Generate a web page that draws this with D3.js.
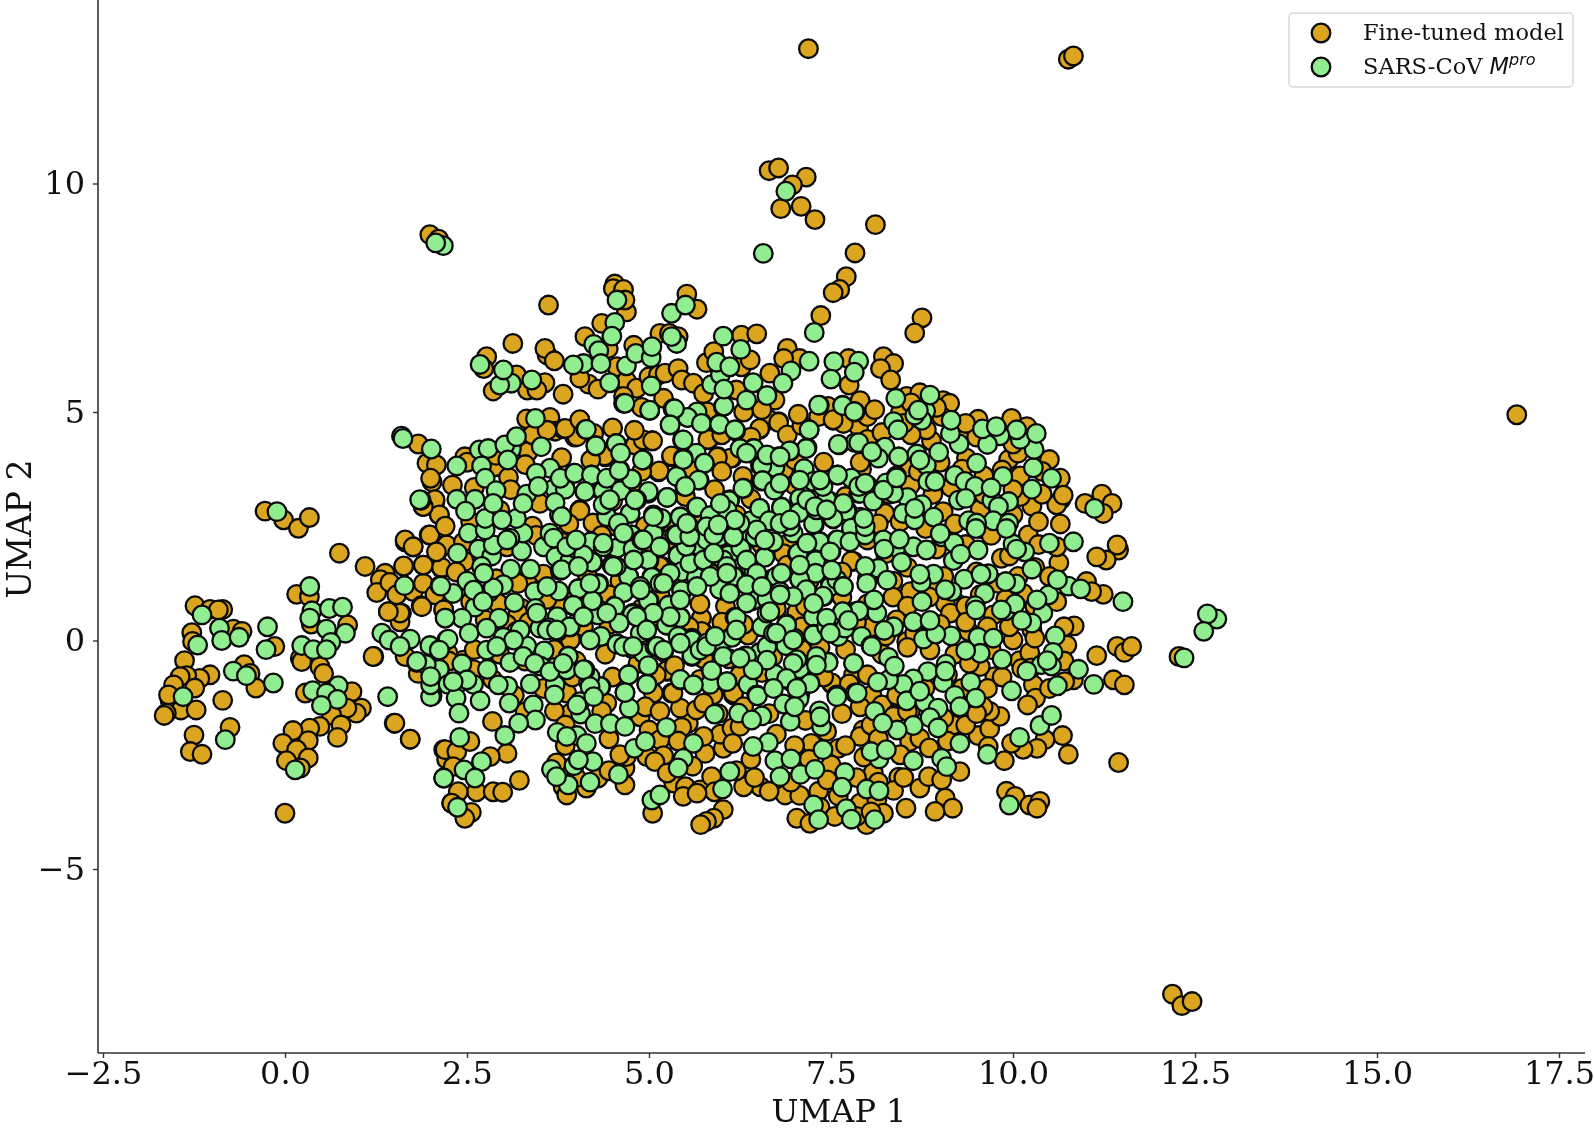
<!DOCTYPE html>
<html><head><meta charset="utf-8">
<script src="https://cdnjs.cloudflare.com/ajax/libs/d3/7.8.5/d3.min.js"></script>
<style>html,body{margin:0;background:#fff}svg{display:block;filter:blur(0.35px)}text{font-family:"DejaVu Serif",serif;fill:#111}</style>
</head><body><svg id="c" width="1594" height="1130"></svg>
<script>
const xTicks=[-2.5,0,2.5,5,7.5,10,12.5,15,17.5];
const yTicks=[-5,0,5,10];
const seriesNames=["Fine-tuned model","SARS-CoV "];
const fineTuned=[[7.19,12.95],[10.76,12.72],[10.83,12.79],[16.92,4.94],[12.19,-7.74],[12.32,-7.99],[12.46,-7.9],[6.65,10.28],[6.78,10.34],[7.16,10.14],[6.97,9.97],[6.81,9.45],[7.09,9.5],[7.28,9.21],[8.11,9.1],[1.99,8.88],[2.11,8.78],[12.28,-.35],
[-.274,2.83],[-.02,2.64],[.184,2.455],[.335,2.69],[.747,1.91],[1.1,1.62],[1.375,1.47],[1.31,1.33],[1.26,1.05],[1.44,1.27],[1.535,1],[1.65,2.16],[1.76,2.05],[1.63,1.62],[1.9,1.65],[1.98,2.31],[2.06,3.04],[2.12,2.75],[1.9,2.93],[2.02,3.47],[2.09,1.94],[2.15,1.58],[2.2,2.09],[1.76,1.07],[1.9,1.25],[1.87,.76],[1.6,.6],[1.42,.63],[1.58,.41],[2.06,1],[2.18,.67],
[-1.236,.76],[-1.03,.68],[-.856,.68],[-.915,.67],[-1.28,.17],[-1.27,-.02],[-.71,.25],[-.59,.2],[-1.38,-.44],[-1.03,-.75],[-1.17,-.83],[-1.35,-.77],[-1.44,-.79],[-1.53,-.97],[-1.24,-1.04],[-1.58,-1.3],[-1.6,-1.19],[-1.43,-1.52],[-1.22,-1.52],[-1.63,-1.59],[-1.66,-1.64],[-.856,-1.31],[-.755,-1.9],[-1.25,-2.07],[-1.3,-2.43],[-1.14,-2.49],[0,-3.78],
[.16,1.01],[.335,.96],[.86,.34],[.36,.36],[-.14,-.13],[-.56,-.53],[-.48,-.72],[-.4,-1.04],[.21,-.39],[.23,-.46],[.48,-.57],[.53,-.72],[.28,-1.15],[.92,-1.12],[1.05,-1.48],[.98,-1.59],[.85,-1.48],[.64,-1.63],[.77,-1.85],[.72,-2.12],[.48,-1.88],[.34,-1.92],[.11,-1.97],[.32,-2.19],[-.03,-2.25],[.16,-2.39],[.32,-2.57],[.02,-2.63],[.21,-2.79],[1.22,-.35],[1.5,-1.81],[1.72,-2.16],[2.18,-2.39],[2.22,-2.6],[2.29,-3.56],
[3.62,7.34],[3.13,6.5],[3.6,6.25],[3.57,6.39],[3.7,6.12],[3.82,5.39],[2.77,6.21],[2.73,5.95],[2.86,5.46],[3.18,5.81],[3.33,5.48],[3.57,5.64],[3.46,5.48],[4.53,7.8],[4.51,7.7],[4.65,7.68],[4.69,7.19],[4.67,7.45],[4.35,6.94],[4.12,6.65],[5.52,7.58],[5.66,7.25],[5.15,6.72],[5.28,6.72],[5.4,6.65],[4.79,6.46],[4.44,6.39],[4.56,5.99],[4.17,5.61],[4.05,5.74],[4.69,5.68],[4.83,5.52],[5,5.77],[5.13,5.81],[5.22,5.85],[4.65,5.34],[5.4,5.95],[5.45,5.7],[5.61,5.63],[5.79,6.08],[5.89,6.32],[6.27,6.68],[6.27,5.99],[6.2,5.48],[3.64,4.88],[3.32,4.85],[3.71,4.58],[3.82,4.63],[3.98,4.45],[4.05,4.82],[4.24,4.53],[5.04,4.37],[4.9,4.35],[4.81,4.28],[4.4,4.02],[1.83,4.3],[1.95,3.88],[2.08,3.84],[2,3.55],[2.47,4.02],[2.88,3.8],[3.07,3.57],[3.34,4.13],[5.13,3.69],[5.31,4.02],[5.82,4.39],[5.95,4.02],[6.14,3.99],[2.06,3.08],[2.12,2.75],[1.9,2.93],[4.05,2.86],[4.24,2.56],
[7.83,8.48],[7.71,7.96],[7.62,7.68],[7.53,7.61],[7.36,7.11],[8.75,7.06],[8.65,6.73],[6.48,6.71],[6.9,6.39],[7.07,6.17],[6.85,6.17],[6.66,5.85],[6.73,5.26],[6.39,6.14],[8.22,6.21],[8.36,6.06],[8.18,5.95],[8.32,5.7],[7.75,5.59],[7.74,6.17],[7.46,5.12],[7.33,4.9],[7.53,4.82],[7.88,4.68],[8,4.9],[7.67,4.75],[6.64,4.82],[6.78,4.79],[6.52,4.62],[8.54,5.34],[8.72,5.42],[9.04,5.25],[9.13,5.19],[8.45,4.97],[9.02,4.9],[8.88,4.37],[8.81,4.61],[9.52,4.84],[9.98,4.86],[10.19,4.68],[9.94,3.96],[10.07,4.1],[10.5,3.96],[9.36,3.99],[9.85,3.73],[10.65,3.55],[10.26,2.94],[10.1,3.15],[10.66,3.09],[10.6,2.97],[10.69,3.18],[10.99,3],[11.22,3.2],[11.36,3],[11.24,2.78],[7.92,3.75],[8.54,3.75],[9.66,3.4],[9.55,2.87],[9.04,2.82],[8.24,2.78],[8.59,3.4],[6.87,3.72],
[7.81,1.73],[6.91,2.09],[7.03,.6],[7.51,-.95],[7.81,-.75],[8.06,-1.19],[8.2,-1.41],[8.38,-1.63],[8.59,-1.55],[9.18,-1.85],[7.94,-1.96],[7.9,-2.1],[8.58,-2.21],[8.72,-2.14],[7.6,-2.36],[7.5,-2.72],[7.23,-2.25],[8.08,-2.89],[8.43,-2.99],[8.36,-3.28],[8.72,-3.23],[8.84,-2.98],[9.02,-3.05],[9.27,-2.87],[9.07,-3.45],[9.17,-3.67],[8.93,-3.74],[8.53,-3.67],[7.03,-3.89],[7.21,-4],[6.87,-3.38],[7.07,-3.39],[6.53,-3.2],[7.33,-3.3],[7.9,-3.56],[8.13,-3.49],[8.22,-3.78],[7.99,-4.03],[9.88,-2.63],[9.52,-2.08],[9.68,-1.93],[9.66,-2.32],[9.82,-1.66],[9.68,-1.55],[9.59,-1.45],[9.75,-.79],[10.09,-.44],[10.23,-.26],[10,.01],[10.12,-.61],[10.28,-.97],[10.31,-1.26],[10.2,-1.41],[9.39,.2],[9.55,-.57],[10.84,.32],[11.15,-.33],[11.43,-.13],[11.53,-.26],[11.63,-.13],[11.38,-.86],[11.53,-.97],[10.83,-.86],[10.71,-.9],[10.74,-.1],[11.45,-2.67],[10.76,-2.49],[10.68,-2.08],[10.44,-2.17],[10.33,-2.36],[10.14,-2.38],[9.98,-2.25],[9.91,-3.3],[10.03,-3.41],[10.23,-3.6],[10.37,-3.52],[10.33,-3.67],[11.45,1.98],[11.43,2.09],[11.28,1.76],[11.15,1.83],[10.63,1.7],[11.24,1.01],[11.01,1.29],[11.08,1.07],[9.23,.81],[9.07,.81],[9.14,.6],[9.73,.56],[10.26,.23],[10.14,1.03],[9.84,1.8],[10.21,2.31],[10.07,1.4],[8.59,1.07],[8.54,-.02],[8.88,.38],[8.86,-.21],[8.79,-1.04],[8.36,-1.66],[8.06,.3],[7.44,-1.99],
[1.65,2.2],[1.76,2.05],[1.99,2.31],[1.63,1.63],[1.9,1.65],[2.15,1.6],[2.22,2.09],[2.08,1.94],[2.47,1.73],[1.88,.74],[1.58,.6],[1.42,.63],[2.18,.67],[1.21,-.35],[1.51,-1.81],[1.72,-2.16],[2.2,-2.39],[2.36,-2.43],[2.54,-2.21],[2.85,-1.77],[3.05,-2.47],[2.82,-2.54],[2.31,-2.76],[2.63,-3.31],[2.38,-3.31],[2.86,-3.31],[2.99,-3.32],[3.22,-3.06],[2.56,-3.76],[2.47,-3.89],[2.29,-3.56],[3.73,-2.68],[3.82,-3.2],[3.87,-3.38],[4.14,-3.23],[4.3,-3.01],[4.67,-3.16],[4.67,-2.79],[5.05,-3.78],[3.92,-1.59],[4.42,-1.37],[4.88,-1.67],[5,-1.96],[5.15,-2.17],[5.2,-2.52],[4.97,-2.54],[5.08,-2.65],[4.69,-2.54],[5.34,-3.12],[5.5,-3.2],[5.7,-3.27],[5.47,-3.41],[5.86,-2.98],[5.9,-3.31],[6.02,-3.7],[5.89,-3.89],[5.79,-3.96],[5.71,-4.03],[5.77,-2.47],[6.02,-2.36],[5.98,-2.05],[5.54,-1.81],[5.43,-1.48],[5.65,-1.52],[5.31,-1.15],[5.88,-1.19],[6.16,-1.19],[5.75,-1.37],[6.14,-1.92],[6.25,-1.88],[5.25,-.68],[5.06,-1.15],[5.72,.49],[5.72,.23],[6.34,.16],[5.18,1.62],[2.93,.81],[3.76,.74],[3.25,.7],[2.45,-.43],[2.59,-.64],[1.83,-.72],[1.65,-.35],[2.24,-.28],[3.87,-1.15],[3.92,.01],[3.32,1.32],[3.3,-1.56],[6.3,-3.2],[5.66,-3.34],
[4.05,2.84],[4.23,2.57],[5.14,3.71],[4.81,4.28],[4.92,4.39],[5.05,4.37],[4.39,4.04],[4.01,4.46],[3.85,4.64],[4.05,4.83],[5.31,4.04],[5.81,4.4],[6.12,3.99],[5.94,4.01],[6.64,4.84],[6.52,4.64],[6.78,4.77],[7.53,4.83],[7.78,1.74],[6.9,2.11],[7.03,.62],[5.72,.49],[5.72,.2],[6.36,.12],[5.24,-.66],[6.16,-1.15],[7.51,-.93],[5.33,-1.15],[5.15,1.62],[3.85,2.31],[6.85,3.73],[6.29,3.59],
[3.4,4.5],[3.6,4.6],[4.5,4.65],[4.8,4.6],[6,4.5],[6.4,4.45],[6.9,4.5],[7.1,4.7],[8,4.4],[8.2,4.55],[8.6,4.5],[9.3,4.6],[9.5,4.45],[10,4.3],
[2.5,3.9],[2.9,4.05],[3.3,3.85],[3.8,4],[4.2,3.95],[4.9,3.7],[5.6,3.75],[6,3.7],[6.5,4],[7,3.95],[7.4,3.9],[7.9,3.9],[8.4,3.6],[8.7,3.7],[9,3.9],[9.3,3.75],[9.6,3.6],[10.1,3.6],[10.4,3.7],
[2.3,3.4],[2.6,3.35],[3.1,3.3],[3.5,3],[4.5,3.05],[4.8,3.3],[5.5,3.15],[5.9,3.3],[6.4,3.1],[7,3.4],[7.7,3.15],[8,3.4],[8.3,3.2],[8.9,3.2],[9.15,3.35],[9.6,3.2],[10,3.3],[10.4,3.2],
[2.2,2.5],[2.55,2.6],[2.95,2.85],[3.4,2.5],[3.9,2.55],[4.55,2.5],[4.95,2.5],[5.3,2.55],[5.7,2.65],[6.2,2.75],[6.85,2.65],[7.35,2.8],[7.9,2.7],[8.15,2.55],[8.45,2.6],[8.8,2.45],[9.2,2.55],[9.55,2.45],[10,2.75],[10.35,2.6],[10.65,2.55],
[2.45,2.15],[2.7,1.85],[3.05,2.05],[3.45,2.3],[3.8,2.15],[4.35,2.3],[4.95,2],[5.25,2.2],[5.55,1.95],[5.95,2.1],[6.55,2.1],[6.85,1.9],[7.5,1.95],[8,2.2],[8.25,1.9],[8.95,2],[9.35,2.1],[9.7,2.3],[9.95,1.85],[10.35,2.1],[10.6,2.05],
[2.35,1.5],[2.9,1.35],[3.2,1.25],[3.55,1.45],[4.15,1.45],[4.6,1.3],[5.25,1.4],[5.9,1.5],[6.4,1.25],[6.9,1.65],[7.2,1.3],[7.65,1.5],[8,1.35],[8.35,1.3],[8.55,1.6],[8.85,1.2],[9.05,1.4],[9.5,1.5],[9.8,1.25],[10.3,1.6],[10.5,1.4],
[2.55,.85],[2.8,1.05],[3.2,.6],[3.6,.9],[4,.95],[4.45,1],[4.9,.7],[5.15,1],[5.7,.8],[6.05,.75],[6.75,.7],[7.15,.75],[7.65,.95],[8,.8],[8.35,.95],[8.55,.75],[8.85,.95],[9.35,.75],[9.55,1],[9.9,.9],[10.3,.75],[10.6,.85],
[2.75,.45],[3.05,.35],[3.35,.4],[3.75,.2],[4.1,.3],[4.45,.35],[4.95,.25],[5.15,.5],[5.55,.3],[6,.4],[6.3,.35],[6.85,.15],[7.1,.3],[7.45,.2],[7.85,.4],[8.25,.1],[8.4,.45],[8.65,.15],[9,.35],[9.35,.4],[9.65,.3],[9.95,.3],[10.3,.05],[10.7,.3],
[2.25,-.45],[2.6,-.2],[2.95,-.3],[3.3,-.45],[3.7,-.2],[4,-.45],[4.4,-.3],[4.85,-.5],[5.2,-.25],[5.75,-.4],[6.1,-.4],[6.35,-.55],[6.7,-.35],[7.1,-.2],[7.35,-.15],[7.7,-.2],[8.2,-.3],[8.55,-.15],[9.2,-.3],[9.4,-.5],[9.7,-.2],[10.25,-.6],[10.7,-.45],
[2.85,-.85],[3.15,-1.2],[3.55,-1.05],[3.95,-.8],[4.5,-.8],[5.1,-.75],[5.35,-.55],[5.7,-.85],[6.25,-.75],[6.55,-.7],[6.95,-.9],[7.4,-.8],[7.75,-.95],[8,-.75],[8.4,-1.2],[8.7,-1.1],[9.1,-.75],[9.3,-1.05],[9.65,-1.05],[9.85,-.8],[10.5,-1.05],
[3.7,-1.55],[3.85,-1.85],[4.35,-1.55],[4.95,-1.45],[5.15,-1.55],[5.45,-1.9],[5.95,-1.6],[6.3,-1.45],[6.65,-1.6],[6.95,-1.45],[7.15,-1.75],[7.65,-1.6],[7.9,-1.45],[8.05,-1.85],[8.55,-1.55],[9.05,-1.7],[9.35,-1.85],[9.5,-1.6],
[3.85,-2.3],[4.45,-2.15],[4.6,-2.5],[5.4,-2.2],[5.75,-2.1],[6.15,-2.25],[6.4,-2.6],[6.75,-2.05],[7,-2.3],[7.2,-2.6],[7.7,-2.3],[7.95,-2.55],[8.15,-2.15],[8.45,-2.5],[8.85,-2.35],[9.1,-2.2],
[4,-3],[4.45,-2.85],[5.25,-2.9],[5.6,-2.75],[6.2,-2.85],[6.45,-3],[6.65,-3.3],[6.95,-3.1],[7.45,-3.05],[7.6,-3.4],[7.85,-3],[8.15,-3.1],[8.5,-3],[7.35,-3.65],[7.55,-3.85],[7.85,-3.85],[8.05,-3.75],
[4.3,5.5],[4.9,5.1],[5.2,5.3],[5.75,5.4],[5.8,5],[6.3,5],[6.55,5.05],[7.05,4.95],[7.9,5.25],[8.1,5.05],[8.6,5.2],[8.95,5.1],[8.5,4.75],[9.35,4.75]];
const sarsCov=[[6.88,9.83],[6.57,8.47],[12.8,.47],[12.67,.58],[12.62,.2],[12.35,-.38],
[-.11,2.82],[.34,1.18],[.37,.65],[.34,.49],[.61,.7],[.79,.73],[-.24,.3],[-1.14,.56],[-.9,.27],[-.87,0],[-.63,.07],[-1.2,-.1],[-.26,-.2],[.23,-.11],[.39,-.2],[.57,.25],[.83,.16],[.63,-.04],[.57,-.2],[-.71,-.67],[-.53,-.77],[-.16,-.93],[-1.4,-1.23],[.38,-1.1],[.73,-.99],[.57,-1.15],[.72,-1.29],[.5,-1.42],[-.82,-2.17],[.14,-2.83],[1.41,-1.23],[1.87,3.07],[1.64,1.2],[2.13,1.2],[1.33,.16],[1.43,.01],[1.72,.03],[1.58,-.13],[2.2,.49],[2.22,.01],[1.99,-.11],[2.12,-.2],[1.81,-.48],[1.95,-.53],[2.12,-.63],[2.02,-.99],[2.02,-1.21],[2.25,-.93],[2.18,-3.01],
[2.37,1.91],[2.66,2],[2.84,1.85],[2.86,2.09],[2.7,1.62],[3.1,1.56],[3,1.22],[3.25,1.96],[3.27,2.35],[3.09,2.24],[2.52,2.35],[2.75,2.42],[3.55,2.05],[3.64,2.35],[3.72,1.83],[3.37,1.56],[2.5,1.3],[2.31,1.03],[2.14,1.19],[2.61,.73],[2.43,.49],[2.2,.49],[2.53,.16],[2.94,.49],[3.15,.83],[3.43,1.07],[3.44,.7],[3.78,1.53],[3.92,1.71],[4.23,1.71],[4.2,2.16],[4.03,1.14],[4.31,1.25],[3.76,1.08],[3.96,.76],[4.23,.86],[4.49,1.65],[4.56,2.02],[4.78,2.02],[4.76,2.31],[5.06,2.33],[4.72,1.4],[5,1.75],[5.04,1.4],[4.65,1.05],[5,.87],[4.53,.76],[4.78,.6],[4.12,.6],[4.59,.38],[4.3,.56],[3.92,.3],[3.74,.52],[3.62,.28],[3.5,.27],[3.18,.2],[2.77,.27],[3,.07],[3.32,-.12],[2.77,-.21],[3.56,-.23],[3.09,-.48],[2.78,-.63],[3.71,-.59],[3.89,-.34],[3.51,-.56],[2.43,-.51],[2.12,-.63],[1.94,-.53],[2.24,.03],[2.12,-.21],[1.81,-.46],[2,-1.23],[2,-.97],[2.24,-.96],[2.38,-.94],[2.59,-.96],[2.35,-1.26],[2.68,-1.32],[2.39,-1.59],[3.06,-1],[3.08,-1.37],[3.37,-.95],[3.41,-1.41],[3.44,-1.74],[3.21,-1.81],[3.02,-2.08],[2.4,-2.12],[2.7,-2.65],[2.46,-2.83],[2.61,-3.01],[2.18,-3.01],[2.37,-3.65],[3.66,-2.82],[3.97,-2.74],[4.23,-2.65],[4.19,-3.1],[3.89,-3.16],[3.74,-2.01],[4.01,-2.08],[4.14,-2.25],[4.06,-1.61],[4.26,-1.82],[4.47,-1.82],[4.67,-1.88],[3.71,-.97],[3.7,-1.19],[4.05,-1.34],[4.17,-.9],[4.34,-1.01],[4.67,-1.14],[4.73,-1.48],[4.58,-2.93],[5.04,-3.49],[5.15,-3.38],[4.8,-2.36],[4.95,-2.21],[5.24,-1.9],[5.61,-2.25],[5.47,-2.58],[5.4,-2.79],[5.9,-1.61],[6.23,-1.59],[6.11,-2.87],[6.01,-3.25],[5.43,-.86],[5.61,-.97],[5.86,-.68],[6.07,-.9],[5.84,-.96],[5.98,-.13],[5.59,-.35],[5.42,.05],[4.94,-.28],[4.99,-.56],[4.72,-.75],[4.97,-.95],[4.56,-.07],[4.34,.09],[5.25,.33],[5.42,.09],[5.43,.51],[5.28,.78],[5.45,1.07],[5.7,2.05],[5.4,1.85],[5.66,1.4],[5.47,1.51],[6,1.1],[6.18,1.4],[6.09,1.87],[6.27,2.02],[6.18,.51],[6.14,.09],[6.32,-.34],[5.59,.05],
[4.13,4.62],[4.27,4.26],[4.55,4.31],[4.65,5.19],[5.01,5.03],[5.33,5.07],[5.53,4.88],[5.72,4.77],[5.29,4.72],[5.46,4.39],[5.65,4.1],[5.47,3.99],[5.76,3.88],[4.92,3.95],[4.6,3.73],[4.76,3.53],[3.97,3.66],[4.21,3.62],[4.35,3.28],[4.12,3.26],[4.62,3.3],[3.85,3.33],[5.38,3.59],[5.69,3.51],[5.49,3.37],[4.99,3.22],[5.25,3.13],[4.74,2.78],[4.42,2.71],[5.17,2.66],[5.43,2.71],[5.65,2.91],[5.84,2.73],[5.55,2.49],[5.35,2.31],[5.06,2.35],[4.76,2.31],[4.2,2.16],[4.56,2.02],[4.78,2],[5.7,2.06],[5.4,1.86],[4.99,1.76],[5.86,1.84],[3.91,1.73],[4.22,1.71],[4.49,1.65],[4.72,1.4],[4.3,1.23],[4.03,1.13],[5.04,1.38],[5.45,1.51],[5.65,1.38],[6.16,1.4],[5.97,1.12],[5.45,1.09],[4.99,.87],[4.65,1.05],[4.22,.87],[3.96,.77],[4.53,.74],[5.27,.77],[4.77,.57],[4.59,.38],[3.91,.3],[5.43,.5],[5.24,.34],[4.34,.09],[4.56,-.08],[4.76,-.17],[4.92,-.28],[5.4,.09],[5.59,.01],[5.9,.09],[5.97,-.15],[6.14,.07],[5.59,-.33],[5.08,-.13],[3.89,-.35],[4.99,-.55],[4.72,-.75],[4.33,-1.01],[4.19,-.79],[4.67,-1.14],[4.97,-.96],[5.43,-.85],[5.61,-.97],[5.86,-.66],[6.07,-.9],
[6.02,5.12],[6.34,5.26],[5.96,4.73],[6.19,4.59],[6.43,4.2],[7.2,4.61],[7.17,4.22],[7.61,4.28],[7.34,5.15],[7.66,5.15],[7.83,5],[7.83,4.33],[6.94,4.15],[6.53,3.83],[6.73,3.81],[7.13,3.75],[7.59,3.62],[6.55,3.49],[7.26,3.49],[6.73,3.31],[6.3,3.33],[7.78,3.55],[7.88,3.22],[7.07,3.11],[6.11,3.08],[7.46,3.04],[6.52,2.89],[6.82,2.92],[7.72,2.84],[7.06,2.8],[7.53,2.66],[6.65,2.62],[6.4,2.62],[6.09,2.64],[7.27,2.53],[7.78,2.4],[7.58,2.2],[7.35,2.16],[6.18,2.35],[6.41,2.26],[6.26,2.02],[6.59,1.84],[7.04,1.9],[7.28,1.76],[7.3,1.49],[6.69,1.34],[7.07,1.34],[7.49,1.25],[7.4,.96],[6.41,.87],[6.62,.93],[7.66,.63],[7.26,.52],[7.83,.63],[6.89,.36],[6.56,.3],[6.2,.5],[7.26,.14],[7.6,.1],[7,.05],[6.89,-.11],[6.52,-.26],[7.46,-.47],[7.07,-.61],[7.81,-.5],[6.73,-.75],[7.21,-.93],[6.36,-.96],[7.58,-1.19],[7.83,-1.15],[7.07,-1.19],[6.48,-1.19],
[2.175,8.64],[2.07,8.7],[1.6,4.47],[1.62,4.42],[2.01,4.19],[2.36,3.82],[2.67,4.17],[2.79,4.2],[2.7,3.82],[2.75,3.55],[2.9,3.28],[1.85,3.08],[2.36,3.09],[2.61,3.09],[2.48,2.83],[2.75,2.67],[3.11,4.19],[3.02,4.28],[3.18,4.46],[3.06,3.95],[3.52,4.24],[3.64,3.77],[3.45,3.66],[3.32,3.2],[3.7,3.33],[3.85,3.31],[3.78,3.55],[3.98,3.66],[4.21,3.62],[4.12,3.26],[4.37,3.28],[4.42,3.55],[4.61,3.28],[4.76,3.53],[4.59,3.72],[4.91,3.95],[4.99,3.26],[5.25,3.13],[5.38,3.59],[5.47,3.96],[5.76,3.88],[5.68,3.51],[5.5,3.37],[5.66,2.92],[5.43,2.7],[5.84,2.73],[6.1,3.06],[6.29,3.33],[5.17,2.67],[4.74,2.78],[4.42,2.71],[3.77,2.75],[3.18,2.67],[2.98,2.64],[3.71,3.02],
[3.44,4.86],[4.14,4.62],[4.27,4.26],[4.55,4.31],[4.61,4.1],[5.47,4.39],[5.66,5],[5.53,4.88],[5.35,5.07],[5.29,4.72],[5.01,5.04],[5.72,4.75],[5.97,4.73],[6.03,5.13],[6.18,4.61],[6.25,4.2],[5.86,5.6],[5.98,5.82],[5.93,6.09],[6.11,5.99],[6.26,6.37],[6.02,6.66],[6.03,5.5],[5.03,5.57],[4.67,5.19],[4.46,5.64],[4.69,6.01],[4.82,6.28],[5.03,6.19],[5.04,6.43],[5.38,6.5],[5.31,6.65],[5.31,7.16],[5.5,7.34],[4.53,6.96],[4.49,6.66],[4.24,6.48],[4.31,6.34],[4.56,7.45],[4.1,6.06],[3.96,6.03],[4.34,6.06],[3.39,5.7],[3.11,5.63],[2.95,5.59],[3,5.92],[2.68,6.04],
[7.27,6.74],[7.2,6.11],[7.54,6.1],[7.88,6.11],[7.82,5.87],[7.5,5.72],[6.95,5.9],[6.84,5.63],[6.43,5.64],[6.62,5.36],[7.33,5.15],[7.66,5.14],[7.82,5.01],[7.2,4.61],[7.16,4.2],[7.6,4.29],[7.88,4.33],[6.93,4.15],[6.44,4.2],[6.78,4.02],[6.73,3.79],[6.55,3.82],[7.13,3.76],[7.59,3.62],[6.56,3.5],[7.26,3.48],[6.72,3.29],[7.9,3.22],[8.09,3.06],[7.48,3.05],[7.07,3.11],[6.82,2.91],[6.52,2.89],[7.06,2.8],[7.71,2.83],[7.53,2.67],[6.65,2.62],[7.26,2.55],[7.78,2.46],
[8.24,4.23],[8.43,4.02],[8.15,3.99],[8.68,4.08],[8.81,3.84],[8.98,4.12],[9.26,4.3],[9.14,4.53],[9.15,4.82],[8.8,5.02],[8.75,4.82],[8.65,4.93],[8.86,5.37],[8.39,5.3],[8.36,4.79],[8.42,4.61],[9.5,3.88],[9.2,3.61],[9.34,3.48],[9.48,3.37],[9.86,3.59],[10.28,3.78],[10.29,4.18],[10.1,4.4],[10.32,4.53],[10.05,4.61],[9.82,4.48],[9.65,4.29],[9.58,4.63],[9.77,4.68],[10.53,3.55],[10.26,3.31],[9.94,3.04],[9.71,3.07],[9.8,2.93],[9.25,3.07],[8.83,3.48],[8.55,3.13],[8.26,3.45],[8.08,3.05],[8.75,2.97],[8.65,2.78],[8.91,2.7],[9.73,2.62],[9.94,2.57],[9.39,2.62],[11.12,2.89],
[6.46,2.27],[6.59,1.82],[7.05,1.91],[7.34,2.16],[7.59,2.2],[7.29,1.75],[7.29,1.47],[6.68,1.33],[6.44,1.51],[7.07,1.34],[7.16,1.1],[7.49,1.18],[7.39,.97],[6.44,.89],[6.62,.91],[8.15,1.58],[8.4,2.04],[8.47,1.71],[8.63,2.05],[8.81,1.98],[9.18,1.75],[8.91,1.45],[8.74,1.27],[9.33,1.34],[9.66,1.46],[9.16,1.07],[9.61,1.03],[8.75,.85],[9.02,2.27],[9.19,2.13],[9.52,1.98],[10.16,1.94],[10.5,2.13],[10.83,2.16],[10,2.11],[10.04,1.24],[9.9,1.29],[10.76,1.19],[10.93,1.13],[11.51,.85],[10.49,1],[10.41,.6],[10.26,.38],[9.9,.65],[9.48,.76],[10.03,.8],[8.36,.3],[8.63,.41],[8.77,.03],[9.15,.1],[8.94,.14],[9.52,.07],[9.73,.05],[9.55,-.28],[9.85,-.41],[10.58,.1],[10.55,-.26],[10.39,-.53],[10.53,-.56],[10.9,-.63],[11.11,-.96],[10.61,-.99],[8.29,-.37],[9.08,-.52],[8.83,-.68],[8.63,-.84],[8.49,-.96],[8.29,-.86],[8.14,-.91],[9.04,-.92],[9.42,-.91],[9.2,-1.2],[9.49,-1.26],[8.54,-1.32],[8.79,-1.35],[9.27,-1.45],[8.97,-1.48],[8.86,-1.69],[8.1,-1.55],[8.63,-1.86],[8.41,-1.96],[8.21,-1.81],[8.97,-1.91],[9.98,-1.1],[10.37,-1.86],[10.53,-1.64],[10.09,-2.12],[9.27,-2.25],[9.65,-2.49],[8.16,-2.59],[8.05,-2.43],[8.26,-2.39],[8.63,-2.63],[9.02,-2.58],[9.09,-2.76],[9.95,-3.6],[7.86,-1.15],[7.58,-1.23],[7.06,-1.28],[7.34,-1.54],[6.94,-1.77],[7.37,-1.88],[6.49,-1.21],[6.85,-1.39],[6.55,-1.65],[6.41,-1.74],[6.64,-2.23],[6.43,-2.32],[6.73,-2.63],[6.95,-2.59],[7.08,-2.93],[6.8,-2.98],[7.28,-2.82],[7.69,-2.89],[7.39,-2.39],[7.65,-3.21],[7.99,-3.25],[8.16,-3.29],[7.26,-3.6],[7.71,-3.68],[7.78,-3.91],[7.33,-3.92],[8.1,-3.92],[7.92,.09],[8.13,.6],[7.88,.65],[7.66,.63],[7.6,.09],[7.26,.12],[6.89,.34],[6.55,.3],[6.88,-.11],[6.52,-.27],[8.05,-.11],[7.46,-.48],[7.81,-.5],[7.07,-.62],[6.73,-.74],[7.21,-.94],
[3.8,2.71],[4.37,2.97],[4.58,2.57],[4.83,3.08],[5.06,2.75],[4.9,2.2],[5.15,2.05],[4.65,2.35],[4.37,2.05],[3.98,2.02],[4.1,1.87],[3.8,1.55],[4.03,1.62],[4.55,1.62],[4.88,1.18],[5.15,1.25],[5.29,1.47],[5.56,1.69],[5.75,1.76],[6.02,1.76],[6.34,1.76],[5.84,1.4],[6.07,1.62],[6.48,1.47],[6.34,1.22],[6.11,1.03],[6.75,1.4],[6.8,1.07],[7.16,1.11],[7.58,1.33],[7.67,1.18],[6.98,.96],[6.62,.6],[6.34,.82],[4.42,.6],[4.1,.52],[7.03,-.42],[7.3,-.35],[6.62,-.13],[6.34,-.35],[6.71,.16],[5.79,-.06],[5.29,.52],[5.06,.6],[4.19,.01],[4.65,-.13],[3.87,-.64],[4.12,-.64],[4.88,.16],[7.69,.27],[7.44,.3],[6.98,2.35],[6.71,2.16],[5.97,2.27],[5.79,2.2],[5.51,2.06],[6.94,2.49],[6.8,2.56],[6.48,2.42],[6.25,2.56],[6.07,2.86],[5.93,2.49],[5.79,2.49],[7.44,3.08],[7.17,3.08],[7.3,2.86],[7.67,3],[7.39,3.37],[7.07,3.51],[6.8,3.44],[6.62,4.06],[6.8,4.02],[6.34,4.1],
[6.59,2.2],[7.17,2.13],[7.49,1.94],[7.07,1.65],[6.82,1.47],[6.55,1.18],[6.8,1],[7.51,1.54],[7.76,2.16],[7.97,2.31],[8.22,2.2],[7.97,1.62],[8.27,1.32],[7.99,1.25],[7.67,1.18],[7.26,.81],[6.66,.63],[7.44,.49],[8.06,-.13],[7.49,.16],[6.75,.16],[6.98,.01],[7.3,-.54],[6.98,-.5],[6.62,-.43],[6.43,-.64],[6.89,-.83],[6.71,-1.05],[7.03,-1.05],[7.35,-1.67],[7,-1.45],
[3.05,2.2],[3.69,2.24],[3.87,2.05],[4,2.2],[4.37,2.13],[4.92,2.2],[5.38,2.31],[5.56,2.27],[5.89,2.31],[6.16,2.27],[5.89,1.91],[6.07,1.47],[5.66,1.18],[5.43,.89],[5.2,1.25],[4.88,1.11],[4.51,1.62],[4.79,1.76],[4.19,1.25],[3.6,1.18],[2.86,1.15],[2.73,1.47],[2.59,1.1],[2.72,.85],[3.46,.6],[3.6,.23],[3.73,.23],[3.23,.23],[3.14,.01],[2.91,-.13],[3.27,-.35],[3.43,-.5],[3.64,-.68],[3.82,-.5],[4.1,-.64],[4.19,-1.01],[4.24,-1.23],[4.01,-1.41],[2.93,-.97],[2.5,-.86],[2.31,-.9],[2,-.79],[4.78,-.13],[4.83,.52],[4.97,.23],[5.11,-.13],[5.2,-.21],[5.43,-.06],[5.7,-.21],[6.02,-.35],[6.25,-.39],[6.2,.23],[5.79,-.13],[5.91,.09],[3.87,-2.1],[4.03,-2.61],[3.73,-2.98],
[2.86,3],[3.27,3],[3.48,3.37],[4.46,3.08],[4.81,3.08],[5.06,2.71],[5.52,2.56],[5.98,3],[6.18,2.64],[5.95,2.53],
[7.35,3.51],[7.88,3.37],[7.97,3.44],[7.28,2.93],[7.44,2.86],[6.94,2.64],[7.97,2.49],[8.36,3.22],[8.22,3.29],[8.49,2.78],[8.65,2.64],[8.93,3.48],[8.72,3.95],[8.06,4.13],[8.7,5.04],[9.5,2.57],
[8.4,3.56],[8.65,2.89],[9,2.34],[9.28,1.89],[8.72,1.45],[8.23,2],[8.44,2.22],[7.95,2.67],[9.35,3.11],[9.7,3.34],[9.91,2.45],[9.49,2.45],[9.56,1.45],[9.07,1.11],[9.84,.67],[9.35,-.22],[9.07,-.67],[8.72,-1.11],[8.37,-.56],[8.09,.89],[7.74,.44],[8.23,.22],[8.86,.44],[10.19,-.67],[10.47,-.44],[10.05,2],[10.26,1.56],[10.61,1.33],[10.33,.89],[10.12,.44],[9.49,.67]];

const svg=d3.select("#c");
const x=d3.scaleLinear().domain([-2.5,17.5]).range([103,1559]);
const y=d3.scaleLinear().domain([-5,10]).range([869,183.5]);
const left=98,bottom=1053,right=1585;

function draw(data,fill){
  svg.append("g").selectAll("circle").data(data).join("circle")
    .attr("cx",d=>x(d[0])).attr("cy",d=>y(d[1])).attr("r",9.3)
    .attr("fill",fill).attr("stroke","#0b0b0b").attr("stroke-width",2.3);
}
draw(fineTuned,"#dba520");
draw(sarsCov,"#90ee90");

const fmt=v=>v.toFixed(1).replace("-","\u2212");
const ax=svg.append("g").attr("transform",`translate(0,${bottom})`)
  .call(d3.axisBottom(x).tickValues(xTicks).tickFormat(fmt).tickSize(5).tickSizeOuter(0).tickPadding(3));
const ay=svg.append("g").attr("transform",`translate(${left},0)`)
  .call(d3.axisLeft(y).tickValues(yTicks).tickFormat(v=>String(v).replace("-","\u2212")).tickSize(5).tickPadding(8));
for(const a of [ax,ay]){
  a.selectAll("text").attr("font-size",32).attr("font-family","DejaVu Serif").attr("fill","#111");
  a.selectAll("line").attr("stroke","#333").attr("stroke-width",1.4);
  a.select(".domain").remove();
}
svg.append("line").attr("x1",left).attr("x2",right).attr("y1",bottom).attr("y2",bottom).attr("stroke","#333").attr("stroke-width",1.6);
svg.append("line").attr("x1",left).attr("x2",left).attr("y1",0).attr("y2",bottom).attr("stroke","#333").attr("stroke-width",1.6);

svg.append("text").attr("x",839).attr("y",1122).attr("text-anchor","middle").attr("font-size",32).text("UMAP 1");
svg.append("text").attr("transform","translate(31,529) rotate(-90)").attr("text-anchor","middle").attr("font-size",33).text("UMAP 2");

const lg=svg.append("g");
lg.append("rect").attr("x",1289).attr("y",13).attr("width",284).attr("height",74).attr("rx",4).attr("fill","#fff").attr("stroke","#d8d8d8").attr("stroke-width",1.5);
[[33,"#dba520"],[67,"#90ee90"]].forEach(([cy,f])=>lg.append("circle").attr("cx",1321).attr("cy",cy).attr("r",9.3).attr("fill",f).attr("stroke","#0b0b0b").attr("stroke-width",2.3));
lg.append("text").attr("x",1363).attr("y",40).attr("font-size",22.5).text(seriesNames[0]);
const t=lg.append("text").attr("x",1363).attr("y",74).attr("font-size",22.5);
t.append("tspan").text(seriesNames[1]);
t.append("tspan").attr("font-family","DejaVu Sans").attr("font-style","oblique").text("M");
t.append("tspan").attr("font-family","DejaVu Sans").attr("font-style","oblique").attr("font-size",16).attr("dy",-9).text("pro");
</script></body></html>
